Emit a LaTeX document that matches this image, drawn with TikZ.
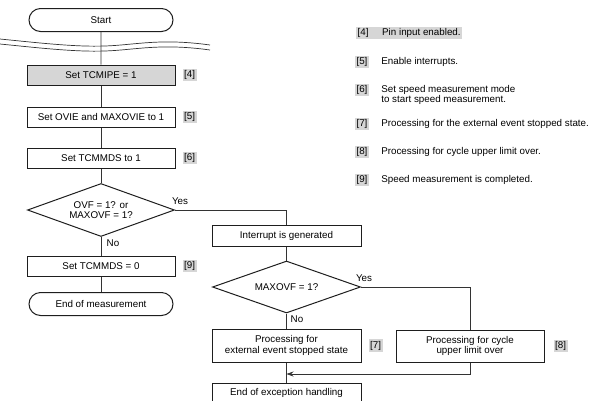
\documentclass[tikz,border=0pt]{standalone}
\usepackage{fontspec}
\setmainfont{Liberation Sans}
\usetikzlibrary{arrows, arrows.meta, shapes, positioning}
\definecolor{ink}{HTML}{1E1E1E}
\definecolor{wire}{HTML}{333333}
\definecolor{shade}{HTML}{D6D6D6}

\begin{document}
\begin{tikzpicture}[x=1pt, y=-1pt,
  font=\fontsize{9.8}{10.5}\selectfont,
  term/.style={rounded rectangle, draw=ink, line width=1pt,
               minimum width=148pt, minimum height=23pt, inner sep=2pt},
  proc/.style={rectangle, draw=ink, line width=1pt, align=center,
               minimum width=148pt, minimum height=20pt, inner sep=2pt},
  cond/.style={diamond, draw=ink, line width=1pt, align=center, aspect=2.8,
               minimum width=147pt, minimum height=53pt, inner sep=0pt},
  tag/.style={fill=shade, inner sep=1.5pt},
  note/.style={anchor=west, inner sep=0pt, align=left},
  lbl/.style={inner sep=0pt},
  link/.style={draw=wire, line width=0.7pt},
  arr/.style={->, >={Stealth[length=7pt, width=5pt]}, draw=wire, line width=0.7pt},
  node distance=7pt
]
  \useasboundingbox (0,0) rectangle (595,400);

  % main column
  \node[term] (start) at (101,20) {Start};
  \node[proc, fill=shade] (pin) at (101,75) {Set TCMIPE = 1};
  \node[proc] (irq)  at (101,117) {Set OVIE and MAXOVIE to 1};
  \node[proc] (run)  at (101,158) {Set TCMMDS to 1};
  \node[cond] (chk)  at (101,210) {OVF = 1? or\\MAXOVF = 1?};
  \node[proc] (stop) at (101,266) {Set TCMMDS = 0};
  \node[term] (fin)  at (101,304) {End of measurement};

  % exception branch
  \node[proc, minimum width=149pt, minimum height=21pt] (intr) at (286.5,235.5) {Interrupt is generated};
  \node[cond, minimum width=148pt, minimum height=52pt] (ovf) at (286.5,287) {MAXOVF = 1?};
  \node[proc, minimum width=149pt, minimum height=33pt] (ext) at (286.5,345.5) {Processing for\\external event stopped state};
  \node[proc, minimum height=32pt] (cyc) at (470,346) {Processing for cycle\\upper limit over};
  \node[proc, minimum width=149pt] (done) at (286.5,393) {End of exception handling};
  \coordinate (join) at (286.5,374);

  % step tags
  \node[tag, right=of pin]  (t4) {[4]};
  \node[tag, right=of irq]  (t5) {[5]};
  \node[tag, right=of run]  (t6) {[6]};
  \node[tag, right=of stop] (t9) {[9]};
  \node[tag, right=of ext]  (t7) {[7]};
  \node[tag, right=9pt of cyc] (t8) {[8]};

  % notes
  \node[tag, anchor=west] (k4) at (356,33) {[4]\hspace{13.6pt}Pin input enabled.\hspace{5pt}};
  \node[tag] (k5) at (362,62)  {[5]};
  \node[tag] (k6) at (362,90)  {[6]};
  \node[tag] (k7) at (362,124) {[7]};
  \node[tag] (k8) at (362,152) {[8]};
  \node[tag] (k9) at (362,180) {[9]};
  \node[note, right=12pt of k5] (m5) {Enable interrupts.};
  \node[note, right=12pt of k6, yshift=-5pt] (m6) {Set speed measurement mode\\to start speed measurement.};
  \node[note, right=12pt of k7] (m7) {Processing for the external event stopped state.};
  \node[note, right=12pt of k8] (m8) {Processing for cycle upper limit over.};
  \node[note, right=12pt of k9] (m9) {Speed measurement is completed.};

  % break marks
  \draw[link] (0,39) .. controls (40,43) and (75,47) .. (105,46) .. controls (135,45) and (160,38) .. (210,45);
  \draw[link] (0,44) .. controls (40,48) and (75,52) .. (105,51) .. controls (135,50) and (160,43) .. (210,50);

  % connectors
  \draw[link] (start) -- (pin);
  \draw[link] (pin) -- (irq);
  \draw[link] (irq) -- (run);
  \draw[link] (run) -- (chk);
  \draw[link] (chk) -- (stop);
  \draw[link] (stop) -- (fin);
  \draw[link] (chk.east) -| (intr.north);
  \draw[link] (intr) -- (ovf);
  \draw[link] (ovf) -- (ext);
  \draw[link] (ext) -- (done);
  \draw[link] (ovf.east) -| (cyc.north);
  \draw[arr] (cyc.south) |- (join);

  \node[lbl] at (180,201) {Yes};
  \node[lbl] at (113,243) {No};
  \node[lbl] at (364,278) {Yes};
  \node[lbl] at (297,319) {No};
\end{tikzpicture}
\end{document}
